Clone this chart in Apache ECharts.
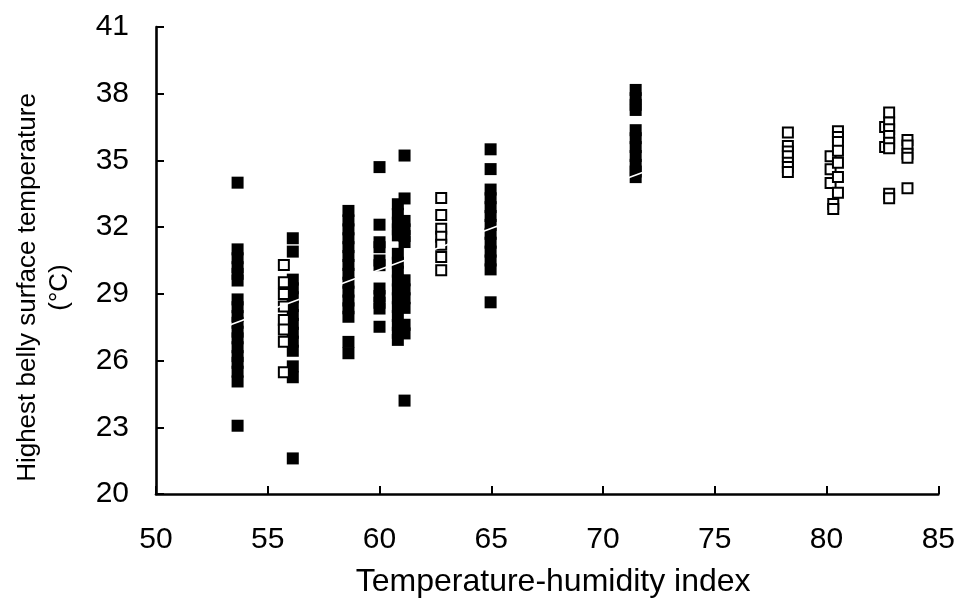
<!DOCTYPE html>
<html>
<head>
<meta charset="utf-8">
<script src="https://cdn.jsdelivr.net/npm/echarts@6/dist/echarts.min.js"></script>
<style>
html,body{margin:0;padding:0;background:#fff;}
#chart{width:958px;height:603px;}
</style>
</head>
<body>
<div id="chart"></div>
<script>
// Axis settings (tick values)
const xTicks = [50, 55, 60, 65, 70, 75, 80, 85];
const yTicks = [20, 23, 26, 29, 32, 35, 38, 41];
const xTitle = 'Temperature-humidity index';
const yTitle = 'Highest belly surface temperature\n(°C)';

// Filled squares: columns of [THI, temperature]
const filledA = [[53.65,34.0],[53.65,31.0],[53.65,30.6],[53.65,30.2],[53.65,29.9],[53.65,29.6],[53.65,28.75],[53.65,28.4],[53.65,28.0],[53.65,27.7],[53.65,27.3],[53.65,27.0],[53.65,26.6],[53.65,26.2],[53.65,25.9],[53.65,25.5],[53.65,25.06],[53.65,23.07]];
const filledB = [[56.12,31.5],[56.12,30.9],[56.12,29.64],[56.12,29.25],[56.12,28.85],[56.12,28.45],[56.12,28.05],[56.12,27.65],[56.12,27.25],[56.12,26.85],[56.12,26.44],[56.12,25.74],[56.12,25.25],[56.12,21.6]];
const filledC = [[58.61,32.73],[58.61,32.3],[58.61,31.9],[58.61,31.5],[58.61,31.1],[58.61,30.7],[58.61,30.3],[58.61,29.9],[58.61,29.5],[58.61,29.1],[58.61,28.7],[58.61,28.35],[58.61,27.97],[58.61,26.84],[58.61,26.33]];
const filledD = [[60.0,34.7],[60.0,32.11],[60.0,31.32],[60.0,31.1],[60.0,30.5],[60.0,30.29],[60.0,29.24],[60.0,28.9],[60.0,28.6],[60.0,28.34],[60.0,27.52]];
const filledE = [[60.82,33.03],[60.82,32.6],[60.82,32.2],[60.82,31.9],[60.82,31.63],[60.82,30.8],[60.82,30.4],[60.82,30.0],[60.82,29.6],[60.82,29.2],[60.82,28.8],[60.82,28.4],[60.82,28.0],[60.82,27.6],[60.82,27.25],[60.82,26.93]];
const filledF = [[61.12,35.22],[61.12,33.29],[61.12,32.28],[61.12,31.9],[61.12,31.6],[61.12,31.33],[61.12,29.61],[61.12,29.2],[61.12,28.8],[61.12,28.37],[61.12,27.61],[61.12,27.22],[61.12,24.2]];
const filledH = [[64.97,35.5],[64.97,34.61],[64.97,33.69],[64.97,33.3],[64.97,32.9],[64.97,32.5],[64.97,32.1],[64.97,31.7],[64.97,31.3],[64.97,30.9],[64.97,30.5],[64.97,30.1],[64.97,28.62]];
const filledI = [[71.46,38.17],[71.46,37.8],[71.46,37.5],[71.46,37.27],[71.46,36.36],[71.46,36.0],[71.46,35.6],[71.46,35.2],[71.46,34.8],[71.46,34.5],[71.46,34.25]];

// Open squares
const openA = [[55.72,30.3],[55.72,29.52],[55.72,28.99],[55.72,28.43],[55.72,27.83],[55.72,27.4],[55.72,26.85],[55.72,25.47]];
const openG = [[62.76,33.31],[62.76,32.55],[62.76,31.93],[62.76,31.57],[62.76,31.21],[62.76,30.66],[62.76,30.06]];
const openJ = [[78.27,36.26],[78.27,35.65],[78.27,35.4],[78.27,35.19],[78.27,34.9],[78.27,34.7],[78.27,34.48]];
const openK = [[80.18,35.19],[80.18,34.6],[80.18,33.99],[80.51,36.31],[80.51,36.05],[80.51,35.83],[80.51,35.44],[80.51,34.89],[80.51,34.25],[80.51,33.55],[80.3,33.04],[80.3,32.82]];
const openL = [[82.62,36.5],[82.62,35.6],[82.8,37.15],[82.8,36.7],[82.8,36.4],[82.8,36.1],[82.8,35.8],[82.8,35.55],[82.8,33.5],[82.8,33.3]];
const openM = [[83.62,35.92],[83.62,35.67],[83.62,35.3],[83.62,35.12],[83.62,33.75]];

// Regression line endpoints (white line over the filled squares)
const regLine = [[53.3,27.6],[71.8,34.47]];

const filled = [].concat(filledA, filledB, filledC, filledD, filledE, filledF, filledH, filledI);
const open = [].concat(openA, openG, openJ, openK, openL, openM);

const chart = echarts.init(document.getElementById('chart'), null, {renderer: 'canvas'});
const font = '"Liberation Sans", Arial, Helvetica, sans-serif';
const axisCommon = {
  axisLine: {show: true, onZero: false, lineStyle: {color: '#000', width: 2.6}},
  axisTick: {show: true, inside: true, length: 8, lineStyle: {color: '#000', width: 2}},
  splitLine: {show: false},
  axisLabel: {color: '#000', fontFamily: font, fontSize: 30}
};
chart.setOption({
  animation: false,
  backgroundColor: '#fff',
  grid: {left: 156, right: 19, top: 27, bottom: 106, containLabel: false},
  xAxis: Object.assign({}, axisCommon, {
    type: 'value', min: xTicks[0], max: xTicks[xTicks.length-1], interval: xTicks[1]-xTicks[0],
    axisLabel: Object.assign({}, axisCommon.axisLabel, {margin: 31}),
    name: xTitle, nameLocation: 'middle', nameGap: 72,
    nameTextStyle: {color: '#000', fontFamily: font, fontSize: 32, padding: [0, 0, 0, 12]}
  }),
  yAxis: Object.assign({}, axisCommon, {
    type: 'value', min: yTicks[0], max: yTicks[yTicks.length-1], interval: yTicks[1]-yTicks[0],
    axisLabel: Object.assign({}, axisCommon.axisLabel, {margin: 27}),
    name: yTitle, nameLocation: 'middle', nameGap: 80,
    nameTextStyle: {color: '#000', fontFamily: font, fontSize: 26, lineHeight: 32, padding: [0, 54, 0, 0]}
  }),
  series: [
    {type: 'scatter', data: filled, symbol: 'rect', symbolSize: 12,
     itemStyle: {color: '#000', opacity: 1}, z: 2, silent: true},
    {type: 'scatter', data: open, symbol: 'rect', symbolSize: 10,
     itemStyle: {color: '#fff', borderColor: '#000', borderWidth: 2, opacity: 1}, z: 3, silent: true},
    {type: 'line', data: regLine, symbol: 'none', z: 4, silent: true,
     lineStyle: {color: '#fff', width: 1.6}}
  ]
});
</script>
</body>
</html>
